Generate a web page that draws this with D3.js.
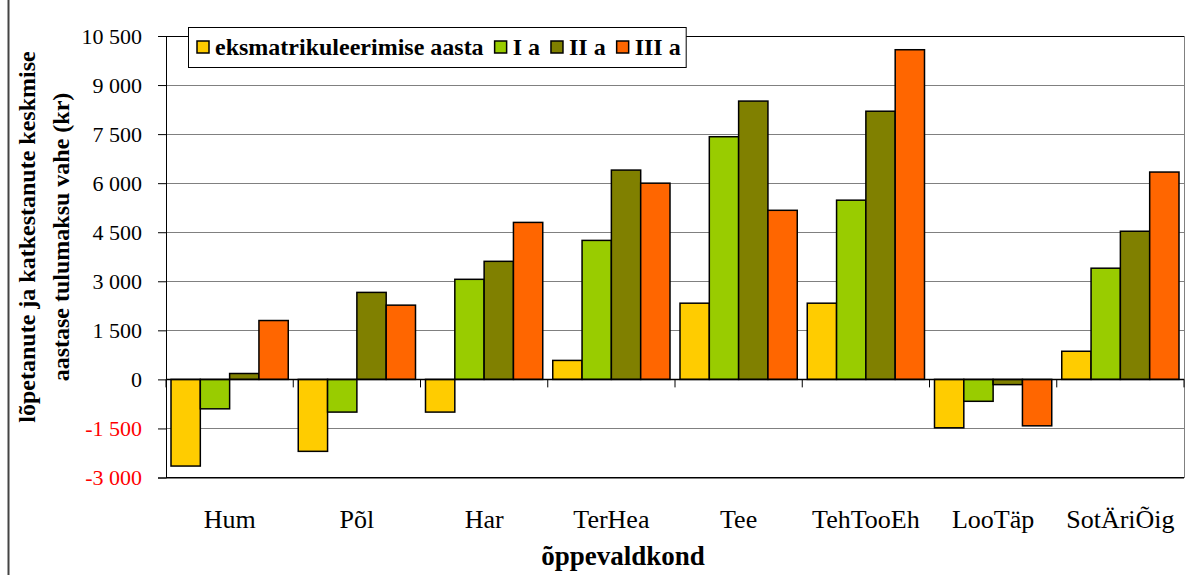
<!DOCTYPE html>
<html>
<head>
<meta charset="utf-8">
<script src="https://cdn.jsdelivr.net/npm/d3@7"></script>
<style>
  body { margin: 0; background: #fff; }
</style>
</head>
<body>
<div id="chart"></div>
<script>
// data
var categories = ["Hum", "Põl", "Har", "TerHea", "Tee", "TehTooEh", "LooTäp", "SotÄriÕig"];
var seriesNames = ["eksmatrikuleerimise aasta", "I a", "II a", "III a"];
var seriesColors = ["#FFCC00", "#99CC00", "#808000", "#FF6600"];
var eksmatAasta = [-2650, -2200, -1000, 580, 2330, 2330, -1480, 860];
var esimeneA = [-900, -1000, 3060, 4250, 7420, 5480, -670, 3400];
var teineA = [180, 2660, 3610, 6400, 8510, 8200, -160, 4530];
var kolmasA = [1800, 2270, 4800, 6000, 5170, 10080, -1420, 6340];
var yTicks = [-3000, -1500, 0, 1500, 3000, 4500, 6000, 7500, 9000, 10500];

var allSeries = [eksmatAasta, esimeneA, teineA, kolmasA];
var FONT = "'Liberation Serif', 'Times New Roman', serif";

var W = 1192, H = 575;
var margin = {top: 36, right: 8, bottom: 97.5, left: 166},
  width = W - margin.left - margin.right,
  height = H - margin.top - margin.bottom;

var root = d3.select("#chart")
  .append("svg")
  .attr("width", W)
  .attr("height", H)
  .style("font-family", FONT);

// chart area left border
root.append("line")
  .attr("x1", 8.5).attr("x2", 8.5)
  .attr("y1", 0).attr("y2", H)
  .attr("stroke", "#444")
  .attr("stroke-width", 2);

var svg = root.append("g")
  .attr("transform", "translate(" + margin.left + "," + margin.top + ")");

var x = d3.scaleBand()
  .domain(categories)
  .range([0, width]);

var x1 = d3.scaleBand()
  .domain(seriesNames)
  .range([5, x.bandwidth() - 5]);

var y = d3.scaleLinear()
  .domain([-3000, 10500])
  .range([height, 0]);

var loc = d3.formatLocale({decimal: ",", thousands: " ", grouping: [3], currency: ["", ""], minus: "-"});
var fmt = loc.format(",");

// gridlines
svg.append("g")
  .call(d3.axisLeft(y).tickValues(yTicks).tickSize(-width).tickFormat(""))
  .call(g => g.select(".domain").remove())
  .call(g => g.selectAll("line").attr("stroke", "#808080").attr("shape-rendering", "crispEdges"));

// right border of plot area
svg.append("line")
  .attr("x1", width).attr("x2", width)
  .attr("y1", 0).attr("y2", height)
  .attr("stroke", "#808080")
  .attr("shape-rendering", "crispEdges");

// bottom + top lines
svg.selectAll(".hline")
  .data([y(-3000), y(10500)])
  .enter()
  .append("line")
  .attr("x1", 0).attr("x2", width)
  .attr("y1", d => d).attr("y2", d => d)
  .attr("stroke", "#000")
  .attr("shape-rendering", "crispEdges");

// y axis
svg.append("g")
  .call(d3.axisLeft(y).tickValues(yTicks).tickSize(8).tickPadding(16).tickFormat(fmt))
  .call(g => g.select(".domain").attr("stroke", "#000"))
  .call(g => g.selectAll(".tick line").attr("stroke", "#000"))
  .call(g => g.selectAll(".tick text")
    .style("font-family", FONT)
    .attr("font-size", 22)
    .attr("fill", d => d < 0 ? "#FF0000" : "#000"));

// bars
var rows = categories.map((c, i) => ({cat: c, vals: allSeries.map((s, k) => ({name: seriesNames[k], color: seriesColors[k], value: s[i]}))}));

svg.selectAll(".grp")
  .data(rows)
  .enter()
  .append("g")
  .attr("class", "grp")
  .attr("transform", d => "translate(" + x(d.cat) + ",0)")
  .selectAll("rect")
  .data(d => d.vals)
  .enter()
  .append("rect")
  .attr("x", d => x1(d.name))
  .attr("width", x1.bandwidth())
  .attr("y", d => y(Math.max(0, d.value)))
  .attr("height", d => Math.abs(y(d.value) - y(0)))
  .attr("fill", d => d.color)
  .attr("stroke", "#000")
  .attr("stroke-width", 1.5);

// zero line with category ticks
svg.append("line")
  .attr("x1", 0).attr("x2", width)
  .attr("y1", y(0)).attr("y2", y(0))
  .attr("stroke", "#000")
  .attr("stroke-width", 1.5);

var bounds = categories.map(c => x(c)).concat([width]);
svg.selectAll(".ctick")
  .data(bounds)
  .enter()
  .append("line")
  .attr("x1", d => d).attr("x2", d => d)
  .attr("y1", y(0)).attr("y2", y(0) + 8)
  .attr("stroke", "#000");

// category labels
svg.selectAll(".clabel")
  .data(categories)
  .enter()
  .append("text")
  .attr("x", d => x(d) + x.bandwidth() / 2)
  .attr("y", height + 50)
  .attr("text-anchor", "middle")
  .style("font-family", FONT)
  .attr("font-size", 26)
  .text(d => d);

// axis titles
root.append("text")
  .attr("x", 623)
  .attr("y", 565)
  .attr("text-anchor", "middle")
  .style("font-family", FONT)
  .attr("font-size", 27)
  .attr("font-weight", "bold")
  .text("õppevaldkond");

var yTitle = root.append("text")
  .attr("transform", "translate(35,237) rotate(-90)")
  .attr("text-anchor", "middle")
  .style("font-family", FONT)
  .attr("font-size", 24)
  .attr("font-weight", "bold");
yTitle.append("tspan").attr("x", 0).attr("dy", 0).text("lõpetanute ja katkestanute keskmise");
yTitle.append("tspan").attr("x", 0).attr("dy", 34).text("aastase tulumaksu vahe (kr)");

// legend
var leg = root.append("g");
var legBox = leg.append("rect")
  .attr("x", 188.5).attr("y", 27.5)
  .attr("height", 40)
  .attr("fill", "#fff")
  .attr("stroke", "#000");
var lx = 197;
seriesNames.forEach((s, k) => {
  leg.append("rect")
    .attr("x", lx).attr("y", 41)
    .attr("width", 12).attr("height", 12)
    .attr("fill", seriesColors[k])
    .attr("stroke", "#000")
    .attr("stroke-width", 1.5);
  var t = leg.append("text")
    .attr("x", lx + 18).attr("y", 55)
    .style("font-family", FONT)
    .attr("font-size", 24)
    .attr("font-weight", "bold")
    .text(s);
  lx = lx + 18 + t.node().getComputedTextLength() + 11;
});
legBox.attr("width", lx - 188 - 6);
</script>
</body>
</html>
